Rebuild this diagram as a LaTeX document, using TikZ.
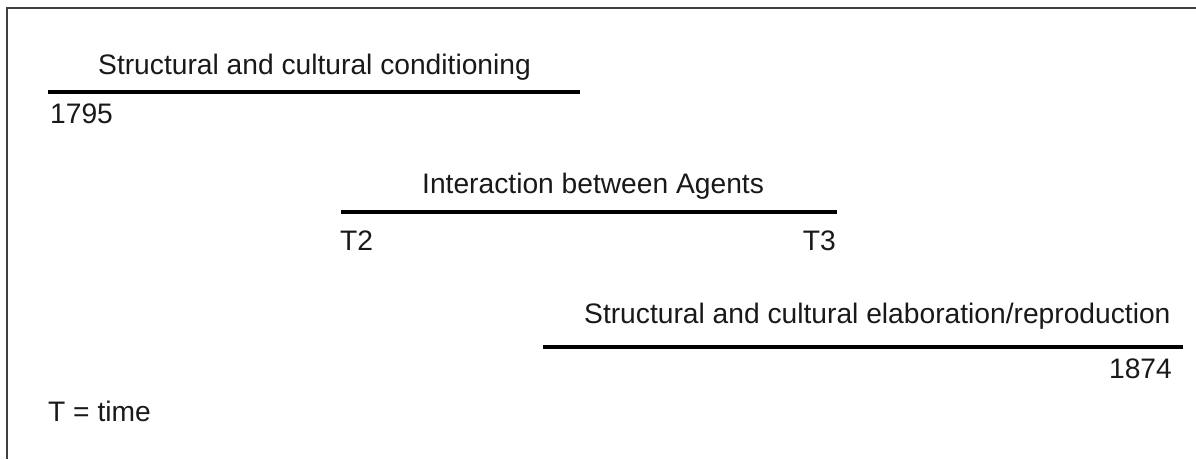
\documentclass[tikz,border=0pt]{standalone}
\usepackage{fontspec}
\setmainfont{Liberation Sans}
\begin{document}
\begin{tikzpicture}[x=1pt,y=-1pt,
  lbl/.style={inner sep=0pt,font=\fontsize{28.2}{31}\selectfont,text=black!90},
  bar/.style={line width=4.2pt,black},
  frame/.style={line width=2pt,black!75}]
\useasboundingbox (0,0) rectangle (1196,459);
% frame (top and left edges)
\coordinate (ftl) at (7,8);
\coordinate (ftr) at (1196,8);
\coordinate (fbl) at (7,459);
\draw[frame] (fbl) -- (ftl) -- (ftr);

% structural and cultural conditioning
\coordinate (a1) at (48,92);
\coordinate (a2) at (580,92);
\draw[bar] (a1) -- (a2);
\node[lbl,anchor=base west] (cond) at (98,74) {Structural and cultural conditioning};
\node[lbl,anchor=base west] (y1795) at (50,123) {1795};

% interaction between agents
\coordinate (b1) at (341,212);
\coordinate (b2) at (837,212);
\draw[bar] (b1) -- (b2);
\node[lbl,anchor=base west] (inter) at (422,193) {Interaction between Agents};
\node[lbl,anchor=base west] (t2) at (340,250) {T2};
\node[lbl,anchor=base east] (t3) at (836,250) {T3};

% structural and cultural elaboration/reproduction
\coordinate (c1) at (543,347);
\coordinate (c2) at (1183,347);
\draw[bar] (c1) -- (c2);
\node[lbl,anchor=base west] (elab) at (584,323) {Structural and cultural elaboration/reproduction};
\node[lbl,anchor=base east] (y1874) at (1172,378) {1874};

% legend
\node[lbl,anchor=base west] (legend) at (48,421) {T = time};
\end{tikzpicture}
\end{document}
